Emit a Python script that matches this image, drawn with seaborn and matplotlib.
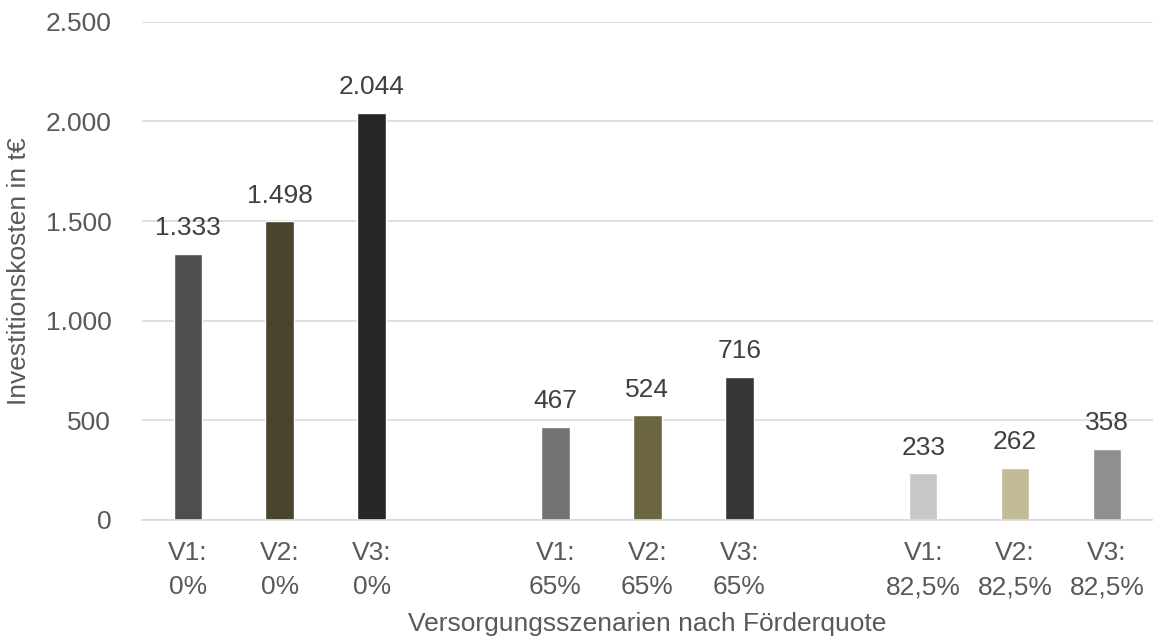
import matplotlib
matplotlib.use("Agg")
import matplotlib.pyplot as plt
import seaborn as sns
import pandas as pd

# Data
scenarios = ["V1:\n0%", "V2:\n0%", "V3:\n0%",
             "V1:\n65%", "V2:\n65%", "V3:\n65%",
             "V1:\n82,5%", "V2:\n82,5%", "V3:\n82,5%"]
values = [1333, 1498, 2044, 467, 524, 716, 233, 262, 358]
colors = ["#4d4f4f", "#4a442c", "#262626",
          "#737373", "#6b6640", "#363636",
          "#c6c7c6", "#c2bb96", "#8f8f8f"]
yticks = [0, 500, 1000, 1500, 2000, 2500]

sns.set_theme(style="white")
plt.rcParams["font.family"] = ["Liberation Sans", "DejaVu Sans"]

df = pd.DataFrame({"scenario": scenarios, "value": values})
order = scenarios[:3] + ["gap1"] + scenarios[3:6] + ["gap2"] + scenarios[6:]
palette = dict(zip(scenarios, colors))

FS = 19
fig = plt.figure(figsize=(11.53, 6.41), dpi=100)
ax = fig.add_axes([0.123, 0.189, 0.877, 0.777])

sns.barplot(data=df, x="scenario", y="value", hue="scenario", order=order,
            palette=palette, width=0.31, legend=False, ax=ax, saturation=1)

ax.set_ylim(0, 2500)
ax.set_xlim(-0.5, len(order) - 0.5)
ax.set_yticks(yticks)
ax.set_yticklabels([f"{v:,}".replace(",", ".") for v in yticks], fontsize=FS, color="#595959")
ax.set_xticks(range(len(order)))
ax.set_xticklabels(["" if o.startswith("gap") else o for o in order], fontsize=FS,
                   color="#595959", linespacing=1.55)
ax.tick_params(axis="y", length=0, pad=22)
ax.tick_params(axis="x", length=0, pad=15)
ax.yaxis.grid(True, color="#d9d9d9", linewidth=1.2)
ax.set_axisbelow(True)
for s in ["top", "right", "left"]:
    ax.spines[s].set_visible(False)
ax.spines["bottom"].set_color("#d9d9d9")
ax.spines["bottom"].set_linewidth(1.2)

for cont in ax.containers:
    labs = []
    for bar in cont:
        h = bar.get_height()
        labs.append("" if pd.isna(h) or h == 0 else f"{int(round(h)):,}".replace(",", "."))
    ax.bar_label(cont, labels=labs, padding=10, fontsize=FS, color="#404040")

ax.set_xlabel("Versorgungsszenarien nach Förderquote", fontsize=FS, color="#595959", labelpad=9)
ax.set_ylabel("Investitionskosten in t€", fontsize=FS, color="#595959", labelpad=10)

fig.savefig("out.png", dpi=100)
